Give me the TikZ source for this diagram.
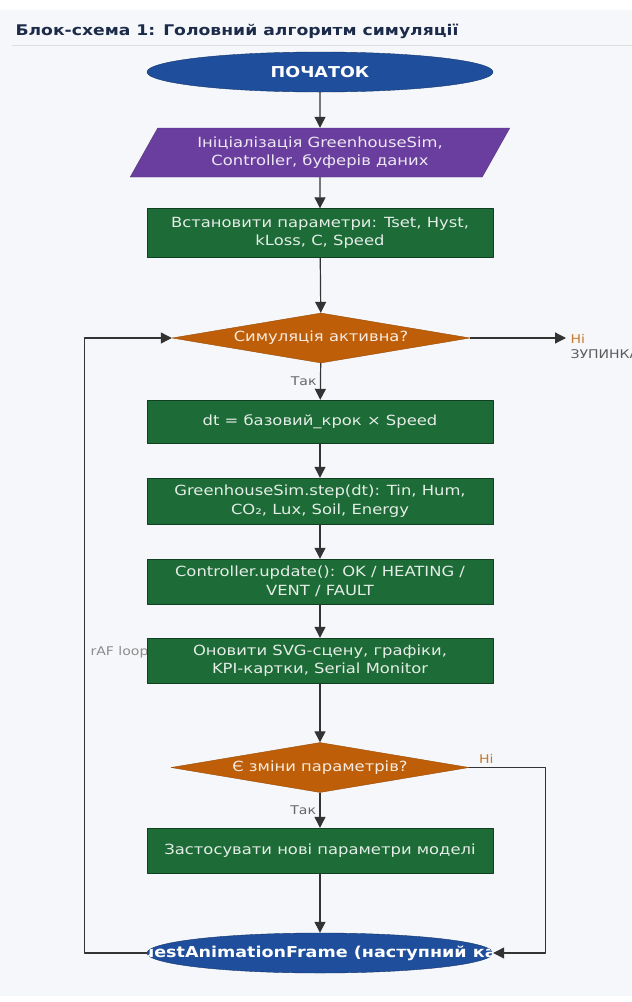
\documentclass[tikz,border=0pt]{standalone}
\usepackage{fontspec}
\setmainfont[FakeStretch=1.17]{DejaVu Sans}
\usetikzlibrary{shapes.geometric,arrows.meta}
\definecolor{panel}{HTML}{F5F7FA}
\definecolor{titlenavy}{HTML}{1C2B4A}
\definecolor{termblue}{HTML}{1E4E9C}
\definecolor{iopurple}{HTML}{6A3E9E}
\definecolor{procgreen}{HTML}{1D6B36}
\definecolor{condorange}{HTML}{BF5E08}
\definecolor{flowgrey}{HTML}{333333}
\definecolor{labelgrey}{HTML}{666666}
\definecolor{noorange}{HTML}{C8792C}
\begin{document}
\begin{tikzpicture}[x=1pt, y=-1pt, font=\fontsize{14}{18.5}\selectfont, line join=round, >={Triangle[length=11pt,width=11pt]},
	term/.style={ellipse, draw=termblue!70!black, fill=termblue, text=white, font=\fontsize{15}{18}\selectfont\bfseries, minimum width=346pt, minimum height=40pt, inner sep=0pt},
	io/.style={trapezium, trapezium left angle=57, trapezium right angle=123, trapezium stretches=true, draw=iopurple!80!black, fill=iopurple, text=white!88!iopurple, minimum width=380pt, minimum height=49pt, align=center, inner sep=0pt},
	proc/.style={rectangle, draw=procgreen!60!black, fill=procgreen, text=white!88!procgreen, minimum width=346pt, minimum height=45pt, align=center, inner sep=0pt},
	cond/.style={diamond, aspect=6, draw=condorange!80!black, fill=condorange, text=white!88!condorange, minimum width=298pt, minimum height=50pt, inner sep=1pt},
	flow/.style={draw=flowgrey, line width=1.2pt, ->},
	lbl/.style={text=labelgrey, font=\fontsize{12}{15}\selectfont}]
	\useasboundingbox (0,0) rectangle (632,1002);
	\fill[panel] (0,10) rectangle (632,996);
	\draw[gray!25, line width=1pt] (12,45) -- (632,45);
	\node[anchor=west, text=titlenavy, font=\fontsize{14.7}{18}\selectfont\bfseries] (title) at (12,31) {Блок-схема 1: Головний алгоритм симуляції};
	% вузли
	\node[term] (start) at (320,72) {ПОЧАТОК};
	\node[io] (init) at (320,152.5) {Ініціалізація GreenhouseSim,\\Controller, буферів даних};
	\node[proc, minimum height=49pt] (params) at (320,233) {Встановити параметри: Tset, Hyst,\\kLoss, C, Speed};
	\node[cond] (sim) at (321,338) {Симуляція активна?};
	\node[proc, minimum height=43pt] (dt) at (320,421.5) {dt = базовий\_крок × Speed};
	\node[proc, minimum height=46pt] (step) at (320,501) {GreenhouseSim.step(dt): Tin, Hum,\\CO₂, Lux, Soil, Energy};
	\node[proc] (ctrl) at (320,581.5) {Controller.update(): OK / HEATING /\\VENT / FAULT};
	\node[lbl, anchor=west, text=gray!90] (loop) at (87,652) {rAF loop};
	\node[proc] (svg) at (320,660.5) {Оновити SVG-сцену, графіки,\\KPI-картки, Serial Monitor};
	\node[cond] (chg) at (320,767.5) {Є зміни параметрів?};
	\node[proc] (apply) at (320,850.5) {Застосувати нові параметри моделі};
	\node[term] (raf) at (320,953) {};
	\begin{scope}
		\clip (raf.center) ellipse [x radius=173pt, y radius=20pt];
		\node[text=white, font=\fontsize{15}{18}\selectfont\bfseries] (raftext) at (320,953) {requestAnimationFrame (наступний кадр)};
	\end{scope}
	\coordinate (stop) at (566,338);
	% з'єднання
	\draw[flow] (start) -- (init);
	\draw[flow] (init) -- (params);
	\draw[flow] (params) -- (sim);
	\draw[flow] (sim) -- node[lbl, left] {Так} (dt);
	\draw[flow] (sim.east) -- (stop);
	\node[lbl, anchor=west, text=noorange] (stopno) at (567,339) {Ні};
	\node[lbl, anchor=west, text=flowgrey!80] (stoplbl) at (567,354) {ЗУПИНКА};
	\draw[flow] (dt) -- (step);
	\draw[flow] (step) -- (ctrl);
	\draw[flow] (ctrl) -- (svg);
	\draw[flow] (svg) -- (chg);
	\draw[flow] (chg) -- node[lbl, left] {Так} (apply);
	\draw[flow] (chg.east) node[lbl, text=noorange, anchor=south west, xshift=6pt] {Ні} -- ++(76,0) |- (raf.east);
	\draw[flow] (apply) -- (raf);
	\draw[flow] (raf.west) -- ++(-62,0) |- (sim.west);
\end{tikzpicture}
\end{document}
